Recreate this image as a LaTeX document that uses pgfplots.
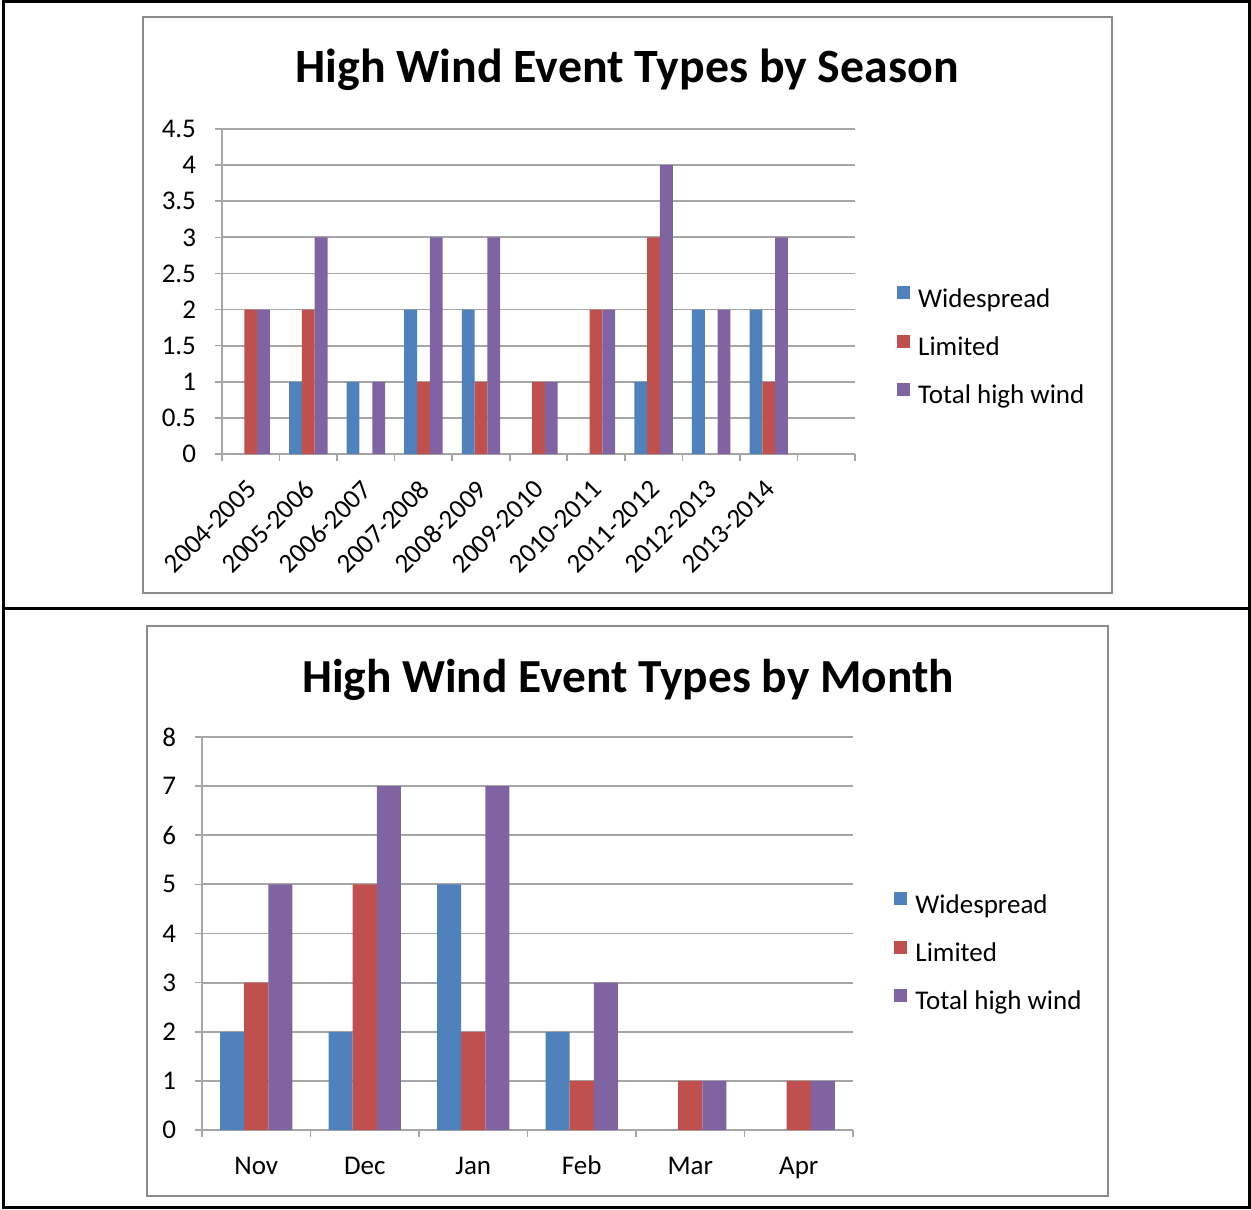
\documentclass[border=0pt]{standalone}
\usepackage{fontspec}
\setmainfont{Carlito}
\usepackage{pgfplots}
\pgfplotsset{compat=1.18}
\definecolor{cW}{HTML}{4F81BD}
\definecolor{cL}{HTML}{C0504D}
\definecolor{cT}{HTML}{8064A2}
\definecolor{gridc}{HTML}{A6A6A6}
\definecolor{framec}{HTML}{8C8C8C}
\newcommand{\tickfont}{\fontsize{13.5}{15}\selectfont}
\pgfplotsset{
  hw/.style={
    scale only axis,
    anchor=south west,
    ybar=0pt,
    bar width=0.2222,
    axis x line*=bottom, axis y line*=left,
    axis line style={gridc, line width=0.9pt},
    ymajorgrids, grid style={gridc, line width=0.9pt},
    ymin=0,
    x tick label as interval,
    tick style={gridc, line width=0.8pt},
    tick align=outside,
    major tick length=3.5pt,
    /pgf/number format/assume math mode=true,
    ticklabel style={font=\tickfont, text=black},
    yticklabel style={xshift=-6pt},
    legend cell align=left,
    legend style={draw=none, fill=none, inner sep=0pt, row sep=10.75pt, column sep=4pt,
      anchor=west, font=\tickfont,
      nodes={inner sep=0pt, text height=9pt, text depth=3pt}},
    legend image code/.code={\fill[##1] (0pt,0.9pt) rectangle (6.5pt,7.4pt);},
  }
}
\begin{document}
\begin{tikzpicture}
\begin{scope}[x=0.5pt,y=-0.5pt]
\useasboundingbox (0,0) rectangle (1251,1209);
\draw[framec, line width=1pt] (143,17) rectangle (1112,593);
\draw[framec, line width=1pt] (147,626) rectangle (1108,1196);
\draw[black, line width=1.5pt] (3,2) rectangle (1249,1207);
\draw[black, line width=1.5pt] (3,608) -- (1249,608);
\end{scope}
\node[anchor=base] at (313.5pt,-41.5pt) {\fontsize{23.9}{28}\selectfont\bfseries High Wind Event Types by Season};
\node[anchor=base] at (314pt,-346pt) {\fontsize{23.7}{28}\selectfont\bfseries High Wind Event Types by Month};

\begin{axis}[hw, at={(111pt,-227pt)}, width=316.5pt, height=162.5pt,
  xmin=-0.5, xmax=10.5, ymax=4.5,
  ytick={0,0.5,1,1.5,2,2.5,3,3.5,4,4.5},
  xtick={-0.5,0.5,1.5,2.5,3.5,4.5,5.5,6.5,7.5,8.5,9.5,10.5},
  xticklabels={2004-2005,2005-2006,2006-2007,2007-2008,2008-2009,2009-2010,2010-2011,2011-2012,2012-2013,2013-2014,{}},
  xticklabel style={font=\fontsize{13.5}{15}\selectfont, xshift=3pt, yshift=-9.5pt, rotate=45, anchor=east},
  legend style={at={(1.066,0.326)}}]
\addplot[fill=cW, draw=none] coordinates {(0,0) (1,1) (2,1) (3,2) (4,2) (5,0) (6,0) (7,1) (8,2) (9,2)};
\addplot[fill=cL, draw=none] coordinates {(0,2) (1,2) (2,0) (3,1) (4,1) (5,1) (6,2) (7,3) (8,0) (9,1)};
\addplot[fill=cT, draw=none] coordinates {(0,2) (1,3) (2,1) (3,3) (4,3) (5,1) (6,2) (7,4) (8,2) (9,3)};
\legend{Widespread,Limited,Total high wind}
\end{axis}

\begin{axis}[hw, at={(101pt,-565pt)}, width=325.5pt, height=196.5pt,
  xmin=-0.5, xmax=5.5, ymax=8,
  ytick={0,1,2,3,4,5,6,7,8},
  xtick={-0.5,0.5,1.5,2.5,3.5,4.5,5.5},
  xticklabels={Nov,Dec,Jan,Feb,Mar,Apr},
  xticklabel style={anchor=base, yshift=-18.5pt},
  legend style={at={(1.063,0.448)}}]
\addplot[fill=cW, draw=none] coordinates {(0,2) (1,2) (2,5) (3,2) (4,0) (5,0)};
\addplot[fill=cL, draw=none] coordinates {(0,3) (1,5) (2,2) (3,1) (4,1) (5,1)};
\addplot[fill=cT, draw=none] coordinates {(0,5) (1,7) (2,7) (3,3) (4,1) (5,1)};
\legend{Widespread,Limited,Total high wind}
\end{axis}
\end{tikzpicture}
\end{document}
